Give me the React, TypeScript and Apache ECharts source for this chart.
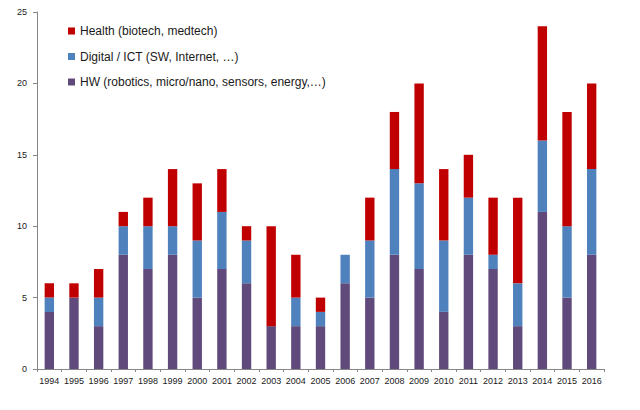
import React, { useEffect, useRef } from "react";
import * as echarts from "echarts";

const years = ["1994","1995","1996","1997","1998","1999","2000","2001","2002","2003","2004","2005","2006","2007","2008","2009","2010","2011","2012","2013","2014","2015","2016"];
const hwValues = [4,5,3,8,7,8,5,7,6,3,3,3,6,5,8,7,4,8,7,3,11,5,8];
const digitalValues = [1,0,2,2,3,2,4,4,3,0,2,1,2,4,6,6,5,4,1,3,5,5,6];
const healthValues = [1,1,2,1,2,4,4,3,1,7,3,1,0,3,4,7,5,3,4,6,8,8,6];
const yTicks = [0,5,10,15,20,25];

const nameHealth = "Health (biotech, medtech)";
const nameDigital = "Digital / ICT (SW, Internet, …)";
const nameHW = "HW (robotics, micro/nano, sensors, energy,…)";

const FONT = "'Liberation Sans', Arial, sans-serif";

export default function App() {
  const ref = useRef<HTMLDivElement>(null);
  useEffect(() => {
    if (!ref.current) return;
    const chart = echarts.init(ref.current, undefined, { renderer: "svg" });
    chart.setOption({
      animation: false,
      backgroundColor: "#ffffff",
      textStyle: { fontFamily: FONT },
      grid: { left: 37, right: 36, top: 12, bottom: 41, containLabel: false },
      legend: {
        orient: "vertical",
        left: 68,
        top: 24,
        padding: 0,
        icon: "rect",
        itemWidth: 7,
        itemHeight: 7,
        itemGap: 11.5,
        data: [nameHealth, nameDigital, nameHW],
        textStyle: { fontSize: 12, color: "#1a1a1a", fontFamily: FONT, lineHeight: 14 },
      },
      xAxis: {
        type: "category",
        data: years,
        axisLine: { lineStyle: { color: "#868686" } },
        axisTick: { show: true, length: 3, alignWithLabel: false, lineStyle: { color: "#868686" } },
        axisLabel: { fontSize: 9, color: "#1a1a1a", margin: 7, interval: 0, fontFamily: FONT },
      },
      yAxis: {
        type: "value",
        min: 0,
        max: 25,
        interval: 5,
        splitLine: { show: false },
        axisLine: { show: true, lineStyle: { color: "#868686" } },
        axisTick: { show: true, length: 4, lineStyle: { color: "#868686" } },
        axisLabel: { fontSize: 9, color: "#1a1a1a", margin: 10, fontFamily: FONT,
          formatter: (v: number) => (yTicks.includes(v) ? String(v) : "") },
      },
      series: [
        { name: nameHW, type: "bar", stack: "total", data: hwValues, barWidth: "38%", itemStyle: { color: "#604A7B" } },
        { name: nameDigital, type: "bar", stack: "total", data: digitalValues, barWidth: "38%", itemStyle: { color: "#4F81BD" } },
        { name: nameHealth, type: "bar", stack: "total", data: healthValues, barWidth: "38%", itemStyle: { color: "#C00000" } },
      ],
    });
    return () => chart.dispose();
  }, []);
  return (
    <div
      ref={ref}
      style={{ position: "absolute", left: 0, top: 0, width: 640, height: 410, background: "#fff" }}
    />
  );
}
